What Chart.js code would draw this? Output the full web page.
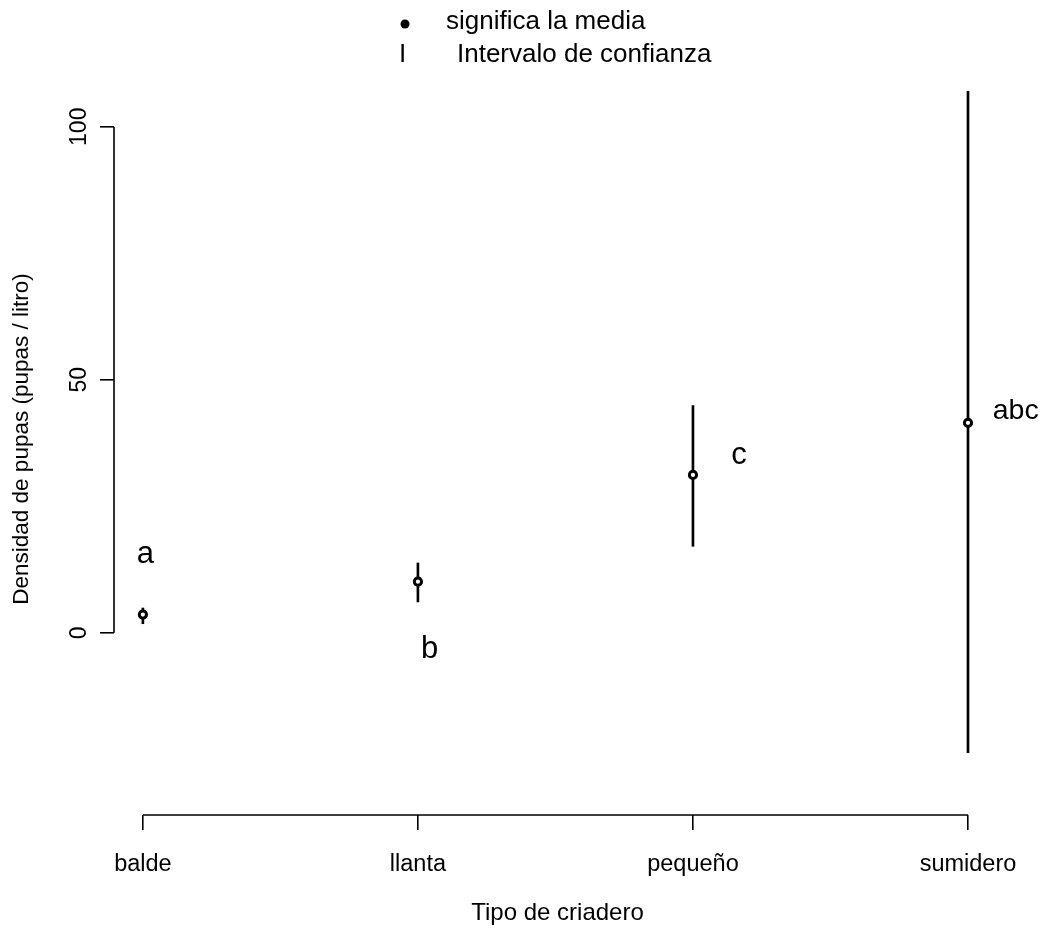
<!DOCTYPE html>
<html><head><meta charset="utf-8">
<script src="https://cdn.jsdelivr.net/npm/chart.js@4/dist/chart.umd.min.js"></script>
<style>html,body{margin:0;padding:0;background:#fff}canvas{display:block}</style>
</head><body>
<canvas id="c" width="1045" height="928"></canvas>
<script>
// ---- data ----
const categories = ['balde', 'llanta', 'pequeño', 'sumidero'];
const categoryPos = [1, 2, 3, 4];
const means = [3.6, 10.1, 31.2, 41.5];
const lower = [1.8, 6.1, 17.1, -23.7];
const upper = [4.9, 13.8, 44.9, 107.0];
const yTicks = [0, 50, 100];
const groupLetters = ['a', 'b', 'c', 'abc'];
const letterX = [0.978, 2.011, 3.139, 4.09];
const letterY = [13.8, -4.9, 33.4, 42.3];
const legendLabels = ['significa la media', 'Intervalo de confianza'];
const xTitle = 'Tipo de criadero';
const yTitle = 'Densidad de pupas (pupas / litro)';

// ---- styles ----
const FONT = "'Liberation Sans', Arial, sans-serif";
const letterFont = [31, 31, 31, 28.5];

const overlay = {
  id: 'overlay',
  afterDraw(chart) {
    const ctx = chart.ctx, xs = chart.scales.x, ys = chart.scales.y;
    const area = chart.chartArea;
    ctx.save();
    ctx.strokeStyle = '#000';
    ctx.lineWidth = 1.6;
    // R-style axis lines spanning first to last tick
    ctx.beginPath();
    ctx.moveTo(area.left, ys.getPixelForValue(yTicks[0]));
    ctx.lineTo(area.left, ys.getPixelForValue(yTicks[yTicks.length - 1]));
    ctx.moveTo(xs.getPixelForValue(categoryPos[0]), area.bottom);
    ctx.lineTo(xs.getPixelForValue(categoryPos[categoryPos.length - 1]), area.bottom);
    ctx.stroke();
    // group letters
    ctx.fillStyle = '#000';
    ctx.textBaseline = 'alphabetic';
    ctx.textAlign = 'left';
    groupLetters.forEach((t, i) => {
      ctx.font = letterFont[i] + 'px ' + FONT;
      ctx.fillText(t, xs.getPixelForValue(letterX[i]), ys.getPixelForValue(letterY[i]));
    });
    // legend
    ctx.beginPath();
    ctx.arc(405, 24, 4.5, 0, Math.PI * 2);
    ctx.fill();
    ctx.font = '26px ' + FONT;
    ctx.fillText('I', 399, 62);
    ctx.fillText(legendLabels[0], 446, 29);
    ctx.fillText(legendLabels[1], 457, 62);
    ctx.restore();
  }
};

new Chart(document.getElementById('c'), {
  type: 'bar',
  data: {
    datasets: [
      {
        type: 'scatter',
        data: categoryPos.map((x, i) => ({x, y: means[i]})),
        pointRadius: 3.6,
        pointBorderWidth: 3,
        pointBorderColor: '#000',
        pointBackgroundColor: '#fff',
        order: 0
      },
      {
        type: 'bar',
        data: categoryPos.map((x, i) => ({x, y: [lower[i], upper[i]]})),
        backgroundColor: '#000',
        borderWidth: 0,
        barThickness: 2,
        order: 1
      }
    ]
  },
  plugins: [overlay],
  options: {
    responsive: false,
    animation: false,
    events: [],
    layout: {padding: {top: 63, right: 44, left: 0, bottom: 0}},
    plugins: {legend: {display: false}, tooltip: {enabled: false}},
    scales: {
      x: {
        type: 'linear',
        offset: false,
        min: 0.895, max: 4.12,
        afterBuildTicks: s => { s.ticks = categoryPos.map(v => ({value: v})); },
        afterFit: s => { s.height = 113; },
        border: {display: false},
        grid: {offset: false, drawOnChartArea: false, drawTicks: true, tickLength: 15, color: '#000', lineWidth: 1.6},
        ticks: {
          color: '#000', font: {family: FONT, size: 23.5}, padding: 20, maxRotation: 0,
          callback: v => categories[categoryPos.indexOf(v)] ?? ''
        },
        title: {display: true, text: xTitle, color: '#000', font: {family: FONT, size: 24}, padding: {top: 0, bottom: 0}}
      },
      y: {
        type: 'linear',
        min: -36, max: 112.6,
        afterBuildTicks: s => { s.ticks = yTicks.map(v => ({value: v})); },
        afterFit: s => { s.width = 114; },
        border: {display: false},
        grid: {drawOnChartArea: false, drawTicks: true, tickLength: 14, color: '#000', lineWidth: 1.6},
        ticks: {
          color: '#000', font: {family: FONT, size: 23}, padding: 1,
          minRotation: 90, maxRotation: 90, crossAlign: 'center'
        },
        title: {display: true, text: yTitle, color: '#000', font: {family: FONT, size: 22.5}, padding: {top: 8, bottom: 0}}
      }
    }
  }
});
</script>
</body></html>
